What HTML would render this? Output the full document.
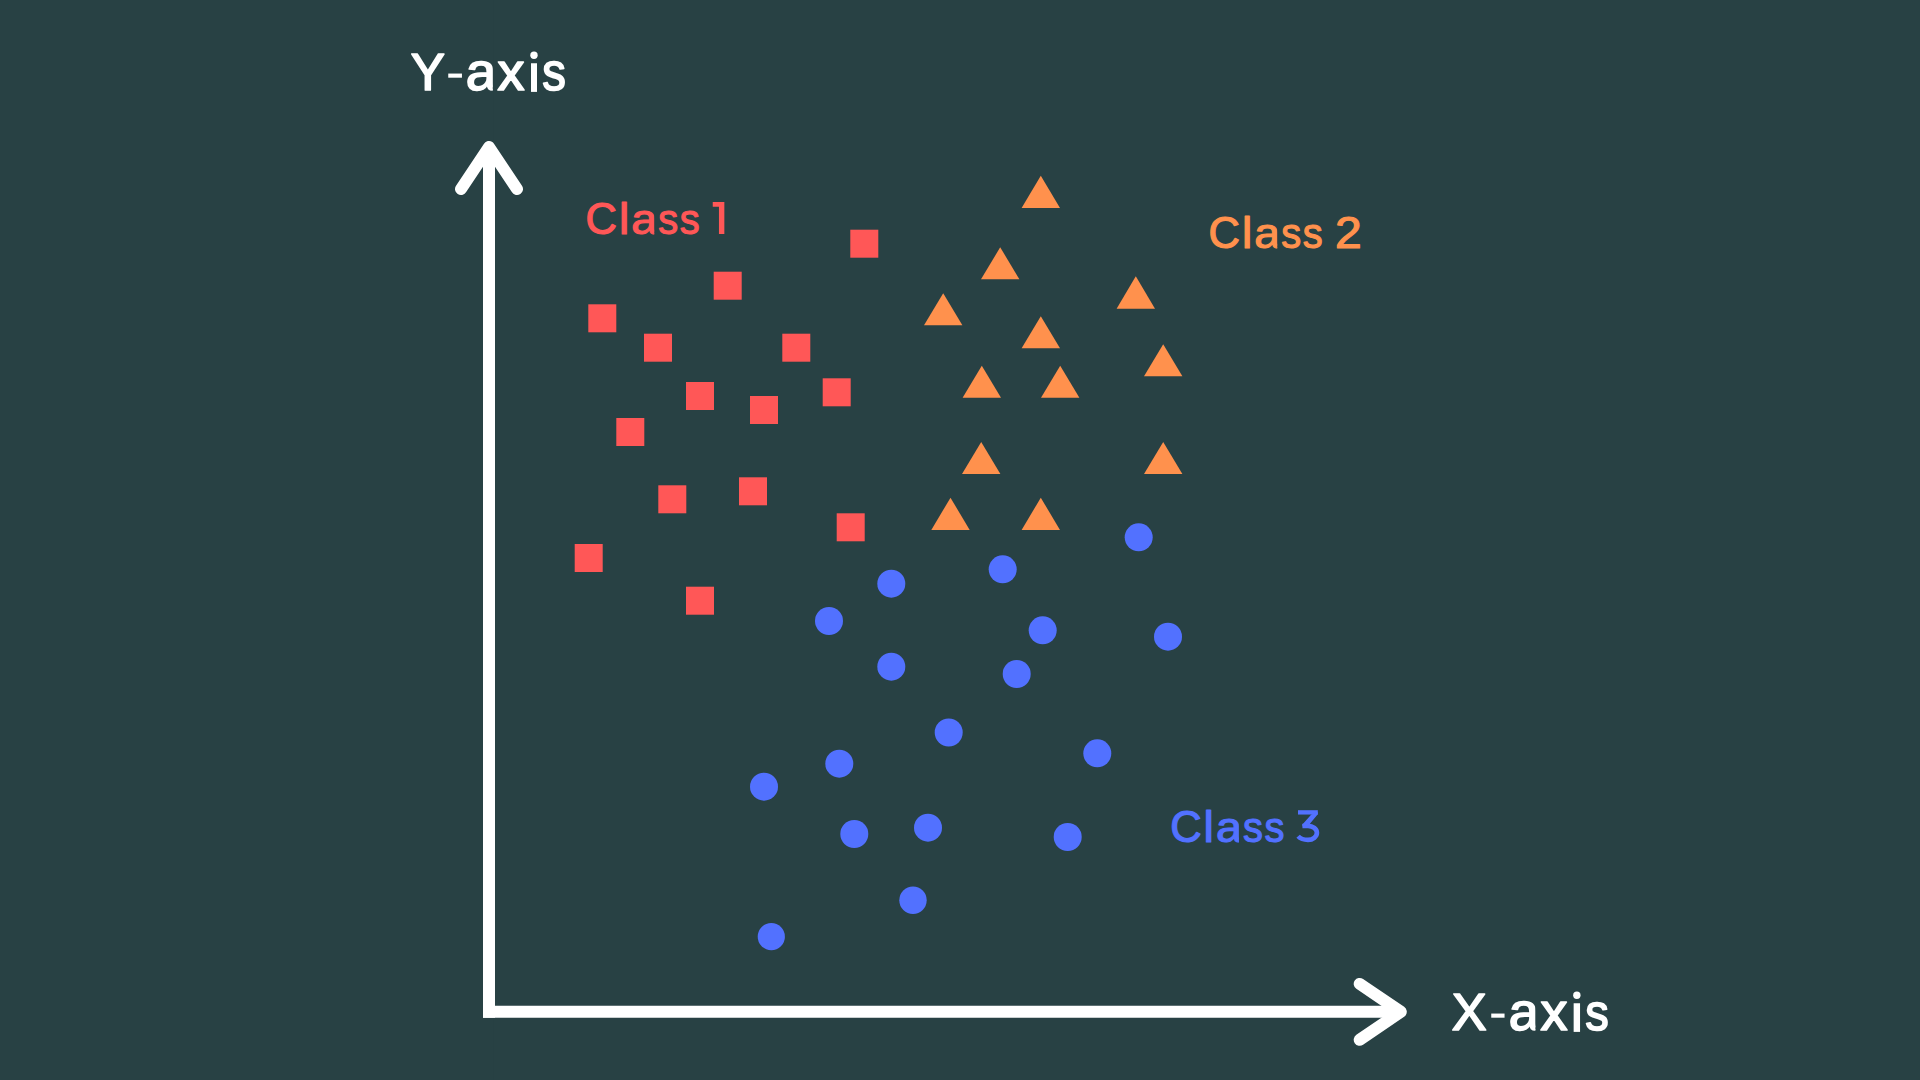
<!DOCTYPE html>
<html lang="en">
<head>
<meta charset="utf-8">
<title>Scatter plot - three classes</title>
<style>
html,body{margin:0;padding:0;background:#284144;}
body{width:1920px;height:1080px;overflow:hidden;font-family:"Liberation Sans",sans-serif;}
svg{display:block;}
text{font-family:"Liberation Sans",sans-serif;stroke-linejoin:round;}
</style>
</head>
<body>
<svg width="1920" height="1080" viewBox="0 0 1920 1080">
<defs>
<clipPath id="clipa51"><rect x="-5" y="-60" width="29.88" height="80"/></clipPath>
<clipPath id="clipa45"><rect x="-5" y="-60" width="27.00" height="80"/></clipPath>
</defs>
<rect x="0" y="0" width="1920" height="1080" fill="#284144"/>
<rect x="493" y="0" width="1" height="1080" fill="#274043"/>
<!-- axes -->
<g fill="none" stroke="#ffffff" stroke-width="12">
<path d="M489 147 L489 1017.7" stroke-linecap="butt"/>
<path d="M483 1011.7 L1401.3 1011.7" stroke-linecap="butt"/>
<path d="M461 189 L489 147 L517 189" stroke-linecap="round" stroke-linejoin="round"/>
<path d="M1359.7 983.9 L1400.8 1011.8 L1359.7 1039.8" stroke-linecap="round" stroke-linejoin="round"/>
</g>
<!-- class 1 : squares -->
<g fill="#FF5757">
<rect x="850.3" y="229.7" width="28" height="28"/>
<rect x="713.7" y="271.7" width="28" height="28"/>
<rect x="588.3" y="304.3" width="28" height="28"/>
<rect x="644" y="333.7" width="28" height="28"/>
<rect x="782.3" y="333.7" width="28" height="28"/>
<rect x="686" y="382" width="28" height="28"/>
<rect x="750" y="396" width="28" height="28"/>
<rect x="822.7" y="378.3" width="28" height="28"/>
<rect x="616.3" y="418" width="28" height="28"/>
<rect x="658.3" y="485.3" width="28" height="28"/>
<rect x="739" y="477.3" width="28" height="28"/>
<rect x="836.7" y="513.3" width="28" height="28"/>
<rect x="574.7" y="544" width="28" height="28"/>
<rect x="686" y="586.7" width="28" height="28"/>
</g>
<!-- class 2 : triangles -->
<g fill="#FF914D">
<path d="M1040.8 175.7 L1060.0 208 L1021.6 208 Z"/>
<path d="M1000.2 247.3 L1019.4 279.3 L981.0 279.3 Z"/>
<path d="M943.2 293.3 L962.4 325.3 L924.0 325.3 Z"/>
<path d="M1135.8 276.3 L1155.0 308.7 L1116.6 308.7 Z"/>
<path d="M1040.8 316.3 L1060.0 348.3 L1021.6 348.3 Z"/>
<path d="M1163.2 344.3 L1182.4 376.3 L1144.0 376.3 Z"/>
<path d="M981.8 365.7 L1001.0 397.7 L962.6 397.7 Z"/>
<path d="M1060.2 365.7 L1079.4 397.7 L1041.0 397.7 Z"/>
<path d="M981.2 442 L1000.4 474 L962.0 474 Z"/>
<path d="M1163.2 442 L1182.4 474 L1144.0 474 Z"/>
<path d="M950.5 497.7 L969.7 530 L931.3 530 Z"/>
<path d="M1040.8 497.7 L1060.0 530 L1021.6 530 Z"/>
</g>
<!-- class 3 : circles -->
<g fill="#5271FF">
<circle cx="1138.7" cy="537.3" r="14"/>
<circle cx="1002.7" cy="569.3" r="14"/>
<circle cx="891.3" cy="583.7" r="14"/>
<circle cx="829" cy="621" r="14"/>
<circle cx="1042.7" cy="630.3" r="14"/>
<circle cx="1168" cy="636.7" r="14"/>
<circle cx="891.3" cy="666.7" r="14"/>
<circle cx="1016.7" cy="674" r="14"/>
<circle cx="948.7" cy="732.5" r="14"/>
<circle cx="1097.3" cy="753.3" r="14"/>
<circle cx="839.3" cy="763.7" r="14"/>
<circle cx="764" cy="786.7" r="14"/>
<circle cx="854.3" cy="834" r="14"/>
<circle cx="928" cy="827.7" r="14"/>
<circle cx="1067.7" cy="837" r="14"/>
<circle cx="913" cy="900.3" r="13.7"/>
<circle cx="771.3" cy="936.7" r="13.6"/>
</g>
<!-- labels (per-glyph fitted) -->
<g fill="#ffffff" stroke="#ffffff" stroke-width="1.7" font-size="51" role="img" aria-label="Y-axis">
<title>Y-axis</title>
<text transform="translate(410.80 90.45) scale(1.0060 1)" x="0" y="0">Y</text>
<rect x="448.25" y="73.55" width="13.70" height="4.15" stroke="none"/>
<text transform="translate(465.65 90.45) scale(1.0893 1)" x="0" y="0" clip-path="url(#clipa51)">a</text>
<text transform="translate(497.51 90.45) scale(1.0577 1)" x="0" y="0">x</text>
<rect x="531.00" y="63.25" width="6.00" height="28.65" stroke="none"/>
<circle cx="534.00" cy="55.25" r="3.7" stroke="none"/>
<text transform="translate(542.27 90.45) scale(0.9257 1)" x="0" y="0">s</text>
</g>
<g fill="#ffffff" stroke="#ffffff" stroke-width="1.7" font-size="51" role="img" aria-label="X-axis">
<title>X-axis</title>
<text transform="translate(1451.79 1030.45) scale(1.0269 1)" x="0" y="0">X</text>
<rect x="1491.25" y="1013.55" width="13.30" height="4.15" stroke="none"/>
<text transform="translate(1508.68 1030.45) scale(1.0723 1)" x="0" y="0" clip-path="url(#clipa51)">a</text>
<text transform="translate(1540.51 1030.45) scale(1.0577 1)" x="0" y="0">x</text>
<rect x="1573.65" y="1003.25" width="6.40" height="28.65" stroke="none"/>
<circle cx="1576.85" cy="995.25" r="3.7" stroke="none"/>
<text transform="translate(1585.17 1030.45) scale(0.9215 1)" x="0" y="0">s</text>
</g>
<g fill="#FF5757" stroke="#FF5757" stroke-width="1.2" font-size="45" role="img" aria-label="Class 1">
<title>Class 1</title>
<text transform="translate(585.48 233.70) scale(0.9681 0.98)" x="0" y="0">C</text>
<text transform="translate(618.91 233.70) scale(1.0286 1)" x="0" y="0">l</text>
<text transform="translate(631.32 233.70) scale(1.0424 0.963)" x="0" y="0" clip-path="url(#clipa45)">a</text>
<text transform="translate(658.30 233.70) scale(0.8862 0.963)" x="0" y="0">s</text>
<text transform="translate(679.80 233.70) scale(0.8862 0.963)" x="0" y="0">s</text>
<path stroke="none" d="M712.75 201.95 H724.35 V233.95 H718.95 V206.85 H712.75 Z"/>
</g>
<g fill="#FF914D" stroke="#FF914D" stroke-width="1.2" font-size="45" role="img" aria-label="Class 2">
<title>Class 2</title>
<text transform="translate(1208.48 247.50) scale(0.9681 0.98)" x="0" y="0">C</text>
<text transform="translate(1241.91 247.50) scale(1.0286 1)" x="0" y="0">l</text>
<text transform="translate(1254.32 247.50) scale(1.0424 0.963)" x="0" y="0" clip-path="url(#clipa45)">a</text>
<text transform="translate(1281.30 247.50) scale(0.8862 0.963)" x="0" y="0">s</text>
<text transform="translate(1302.80 247.50) scale(0.8862 0.963)" x="0" y="0">s</text>
<text transform="translate(1335.01 247.50) scale(1.0690 0.98)" x="0" y="0">2</text>
</g>
<g fill="#5271FF" stroke="#5271FF" stroke-width="1.2" font-size="45" role="img" aria-label="Class 3">
<title>Class 3</title>
<text transform="translate(1170.18 841.70) scale(0.9681 0.98)" x="0" y="0">C</text>
<text transform="translate(1203.61 841.70) scale(1.0286 1)" x="0" y="0">l</text>
<text transform="translate(1216.02 841.70) scale(1.0424 0.963)" x="0" y="0" clip-path="url(#clipa45)">a</text>
<text transform="translate(1243.00 841.70) scale(0.8862 0.963)" x="0" y="0">s</text>
<text transform="translate(1264.50 841.70) scale(0.8862 0.963)" x="0" y="0">s</text>
<g transform="translate(0.00 0.00)" stroke="none"><rect x="1298" y="810.2" width="19.8" height="4.35"/><path d="M1311.3 814.4 L1302.4 824.6 L1302.4 826.2 L1310 826.2 L1310.1 823.4 L1317.8 814.3 L1317.8 812 Z"/><path fill="none" stroke="#5271FF" stroke-width="4.7" d="M1302.4 826.0 L1308 825.8 C1312.9 825.8 1316.9 828.95 1316.9 832.85 C1316.9 836.75 1312.9 839.9 1308 839.9 C1303.8 839.9 1300.3 838.6 1298.1 836.25"/></g>
</g>
</svg>
</body>
</html>
